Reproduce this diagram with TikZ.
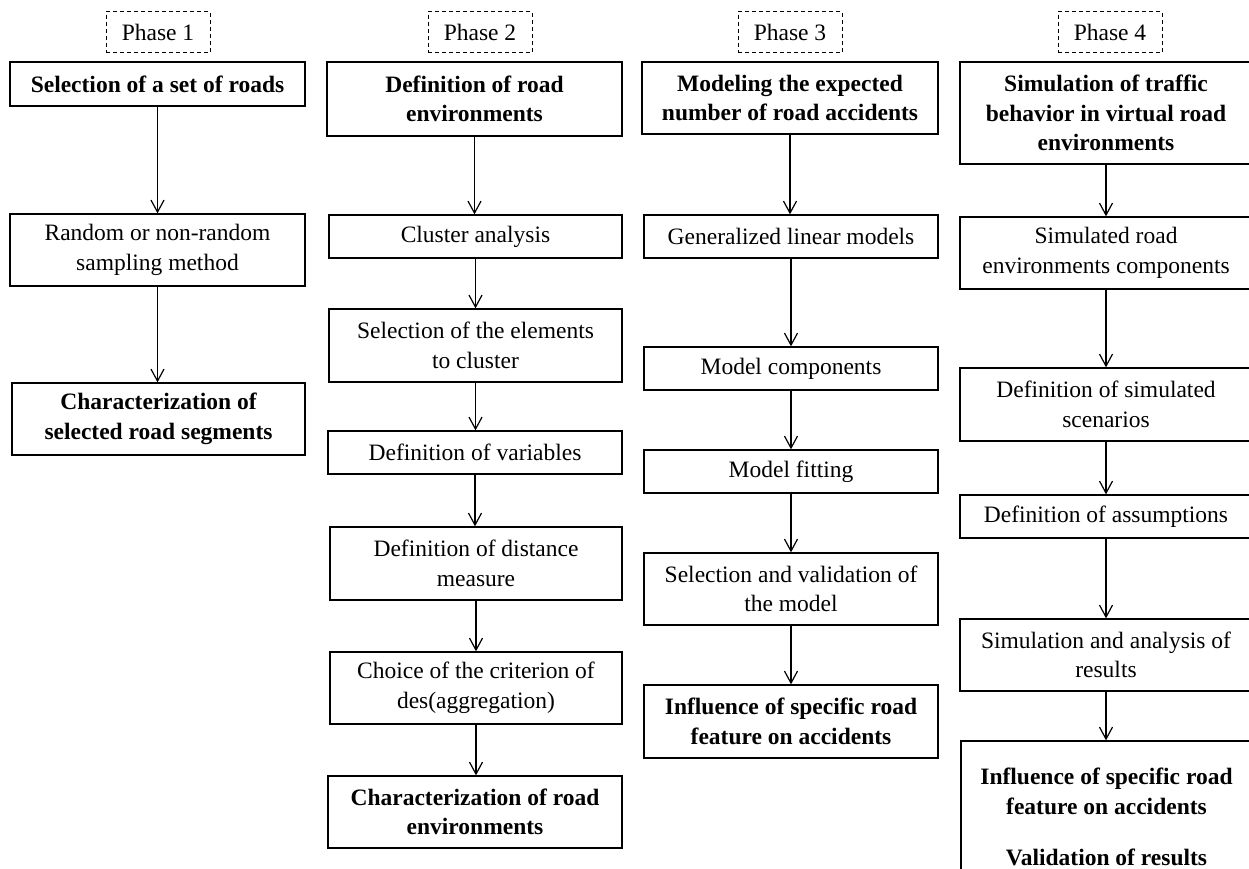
\documentclass[tikz,border=0pt]{standalone}
\usepackage{fontspec}
\setmainfont{Liberation Serif}
\usetikzlibrary{arrows.meta}
\tikzset{
  x=1pt,y=-1pt,
  box/.style={draw=black, line width=1.3pt, rectangle, inner sep=0pt, align=center,
    font=\fontsize{23.5}{29.5}\selectfont},
  boldbox/.style={box, font=\fontsize{23.5}{29.5}\selectfont\bfseries},
  phasebox/.style={draw=black, line width=1pt, dash pattern=on 4pt off 3pt, rectangle,
    inner sep=0pt, minimum width=104pt, minimum height=41pt,
    font=\fontsize{23.5}{29.5}\selectfont},
  flow/.style={draw=black, line width=1.2pt, -{Straight Barb[length=12pt,width=13pt,line width=1.2pt]}}
}
\begin{document}
\begin{tikzpicture}
\useasboundingbox (0,0) rectangle (1249,869);
% Phase labels
\node[phasebox] (p1) at (158,32.5) {Phase 1};
\node[phasebox] (p2) at (480,32.5) {Phase 2};
\node[phasebox] (p3) at (790,32.5) {Phase 3};
\node[phasebox] (p4) at (1110,32.5) {Phase 4};
% Column 1
\node[boldbox, minimum width=295pt, minimum height=44pt] (a1) at (157.5,84) {Selection of a set of roads};
\node[box, minimum width=295pt, minimum height=72pt] (a2) at (157.5,250) {Random or non-random\\sampling method};
\node[boldbox, minimum width=293pt, minimum height=72pt] (a3) at (158.5,419) {Characterization of\\selected road segments};
% Column 2
\node[boldbox, minimum width=295pt, minimum height=74pt] (b1) at (474.5,99) {Definition of road\\environments};
\node[box, minimum width=293pt, minimum height=43pt] (b2) at (475.5,236.5) {Cluster analysis};
\node[box, minimum width=293pt, minimum height=73pt] (b3) at (475.5,345.5) {Selection of the elements\\to cluster};
\node[box, minimum width=294pt, minimum height=43pt] (b4) at (475,452.5) {Definition of variables};
\node[box, minimum width=292pt, minimum height=73pt] (b5) at (476,563.5) {Definition of distance\\measure};
\node[box, minimum width=292pt, minimum height=72pt] (b6) at (476,688) {Choice of the criterion of\\des(aggregation)};
\node[boldbox, minimum width=294pt, minimum height=72pt] (b7) at (475,812) {Characterization of road\\environments};
% Column 3
\node[boldbox, minimum width=296pt, minimum height=72pt] (c1) at (790,98) {Modeling the expected\\number of road accidents};
\node[box, minimum width=294pt, minimum height=43pt] (c2) at (791,236.5) {Generalized linear models};
\node[box, minimum width=294pt, minimum height=43pt] (c3) at (791,368.5) {Model components};
\node[box, minimum width=294pt, minimum height=43pt] (c4) at (791,471.5) {Model fitting};
\node[box, minimum width=294pt, minimum height=72pt] (c5) at (791,589) {Selection and validation of\\the model};
\node[boldbox, minimum width=294pt, minimum height=73pt] (c6) at (791,721.5) {Influence of specific road\\feature on accidents};
% Column 4
\node[boldbox, minimum width=292pt, minimum height=102pt] (d1) at (1106,113) {Simulation of traffic\\behavior in virtual road\\environments};
\node[box, minimum width=292pt, minimum height=72pt] (d2) at (1106,253) {Simulated road\\environments components};
\node[box, minimum width=292pt, minimum height=73pt] (d3) at (1106,404.5) {Definition of simulated\\scenarios};
\node[box, minimum width=292pt, minimum height=43pt] (d4) at (1106,516.5) {Definition of assumptions};
\node[box, minimum width=292pt, minimum height=72pt] (d5) at (1106,655) {Simulation and analysis of\\results};
\node[boldbox, minimum width=291pt, minimum height=152pt] (d6) at (1106.5,817) {Influence of specific road\\feature on accidents\\[22pt]Validation of results};
% Connectors
\draw[flow] (a1.south) -- (a1.south |- a2.north);
\draw[flow] (a2.south) -- (a2.south |- a3.north);
\draw[flow] (b1.south) -- (b1.south |- b2.north);
\draw[flow] (b2.south) -- (b2.south |- b3.north);
\draw[flow] (b3.south) -- (b3.south |- b4.north);
\draw[flow] (b4.south) -- (b4.south |- b5.north);
\draw[flow] (b5.south) -- (b5.south |- b6.north);
\draw[flow] (b6.south) -- (b6.south |- b7.north);
\draw[flow] (c1.south) -- (c1.south |- c2.north);
\draw[flow] (c2.south) -- (c2.south |- c3.north);
\draw[flow] (c3.south) -- (c3.south |- c4.north);
\draw[flow] (c4.south) -- (c4.south |- c5.north);
\draw[flow] (c5.south) -- (c5.south |- c6.north);
\draw[flow] (d1.south) -- (d1.south |- d2.north);
\draw[flow] (d2.south) -- (d2.south |- d3.north);
\draw[flow] (d3.south) -- (d3.south |- d4.north);
\draw[flow] (d4.south) -- (d4.south |- d5.north);
\draw[flow] (d5.south) -- (d5.south |- d6.north);
\end{tikzpicture}
\end{document}
